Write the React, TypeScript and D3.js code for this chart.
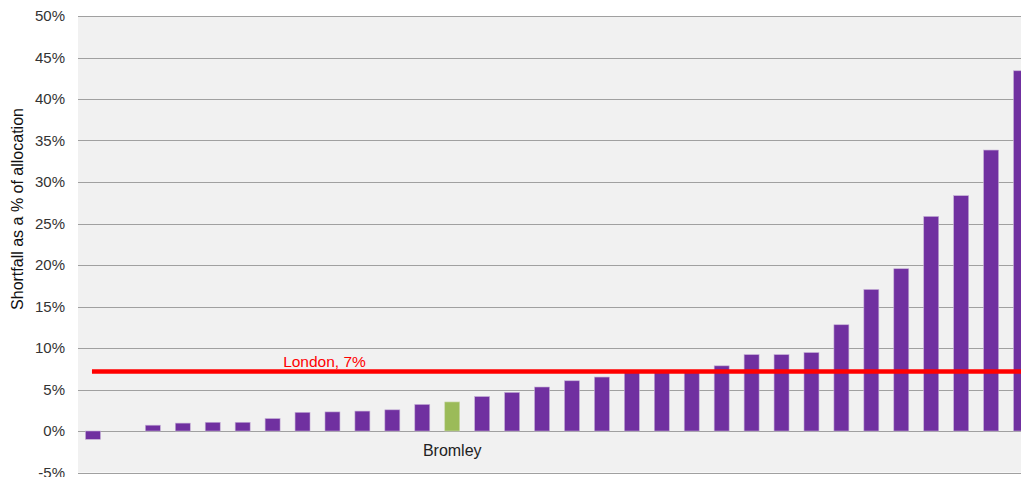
import React from "react";
import * as d3 from "d3";

const categories: string[] = [
  "B01", "B02", "B03", "B04", "B05", "B06", "B07", "B08", "B09", "B10", "B11", "B12",
  "Bromley",
  "B14", "B15", "B16", "B17", "B18", "B19", "B20", "B21", "B22", "B23", "B24", "B25",
  "B26", "B27", "B28", "B29", "B30", "B31", "B32",
];
const shortfall: number[] = [
  -1.0, 0, 0.7, 0.95, 1.05, 1.05, 1.5, 2.25, 2.3, 2.4, 2.55, 3.2,
  3.5,
  4.15, 4.65, 5.3, 6.05, 6.5, 7.1, 7.2, 7.3, 7.85, 9.2, 9.2, 9.45,
  12.8, 17.05, 19.55, 25.85, 28.35, 33.85, 43.4,
];
const highlighted = "Bromley";
const londonValue = 7.17;
const londonLabel = "London, 7%";
const yTicks: number[] = [-5, 0, 5, 10, 15, 20, 25, 30, 35, 40, 45, 50];
const yTitle = "Shortfall as a % of allocation";

const W = 1021;
const H = 477;
const left = 78;
const right = 1036;
const top = 16;
const bottom = 472.5;
const FONT = "Arial, 'Liberation Sans', sans-serif";

export default function App() {
  const x = d3
    .scaleBand<string>()
    .domain(categories)
    .range([left, right])
    .paddingInner(0.5)
    .paddingOuter(0.25);
  const y = d3.scaleLinear().domain([-5, 50]).range([bottom, top]);
  const bw = x.bandwidth();
  const fmt = (v: number) => `${v}%`;
  const lineStart = (x(categories[0]) ?? 0) + bw / 2 - 1;

  return (
    <svg
      width={W}
      height={H}
      style={{ position: "absolute", left: 0, top: 0, display: "block", background: "#fff" }}
    >
      <rect x={left} y={top} width={right - left} height={bottom - top} fill="#f1f1f1" />
      {yTicks.map((t) => (
        <g key={t}>
          <line
            x1={left}
            x2={right}
            y1={Math.round(y(t)) + 0.5}
            y2={Math.round(y(t)) + 0.5}
            stroke="#a0a0a0"
            strokeWidth={1}
          />
          <text
            x={65}
            y={y(t)}
            dy="0.35em"
            textAnchor="end"
            fontFamily={FONT}
            fontSize={15}
            fill="#333"
          >
            {fmt(t)}
          </text>
        </g>
      ))}
      {categories.map((c, i) => {
        const v = shortfall[i];
        if (v === 0) return null;
        const y0 = y(0);
        const yv = y(v);
        return (
          <rect
            key={c}
            x={x(c)}
            y={Math.min(y0, yv)}
            width={bw}
            height={Math.abs(yv - y0)}
            fill={c === highlighted ? "#9bbb59" : "#7030a0"}
            stroke={c === highlighted ? "#cddbb0" : "#c4aed6"}
            strokeWidth={0.6}
          />
        );
      })}
      <line
        x1={lineStart}
        x2={right}
        y1={y(londonValue)}
        y2={y(londonValue)}
        stroke="#ff0000"
        strokeWidth={4.5}
      />
      <text
        x={324.5}
        y={y(londonValue) - 4.5}
        textAnchor="middle"
        fontFamily={FONT}
        fontSize={15.5}
        fill="#ff0000"
      >
        {londonLabel}
      </text>
      <text
        x={(x(highlighted) ?? 0) + bw / 2}
        y={456}
        textAnchor="middle"
        fontFamily={FONT}
        fontSize={16}
        fill="#222"
      >
        {highlighted}
      </text>
      <text
        transform={`translate(23, 209) rotate(-90)`}
        textAnchor="middle"
        fontFamily={FONT}
        fontSize={16}
        fill="#111"
      >
        {yTitle}
      </text>
    </svg>
  );
}
